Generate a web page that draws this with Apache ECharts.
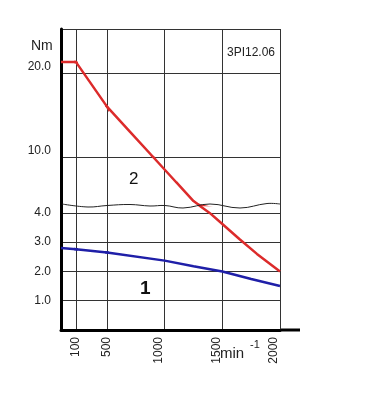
<!DOCTYPE html>
<html>
<head>
<meta charset="utf-8">
<script src="https://cdn.jsdelivr.net/npm/echarts@6/dist/echarts.min.js"></script>
<style>
  html, body { margin: 0; padding: 0; background: #fff; }
  #chart { width: 378px; height: 400px; }
</style>
</head>
<body>
<div id="chart"></div>
<script>
// curve 2 (red) and curve 1 (blue), speed in min^-1, torque in Nm
const speedRed  = [0, 100, 500, 700, 900, 1100, 1250, 1300, 1390, 1500, 1650, 1800, 2000];
const torqueRed = [21.3, 21.3, 16.0, 13.0, 10.0, 7.0, 4.76, 4.25, 4.0, 3.62, 3.1, 2.6, 2.0];
const speedBlue  = [0, 100, 500, 1000, 1250, 1500, 1750, 2000];
const torqueBlue = [2.8, 2.76, 2.65, 2.37, 2.18, 2.0, 1.74, 1.5];

const font = 'Arial, "Liberation Sans", sans-serif';
const gridColor = '#333';

// the drawing uses a broken scale on both axes, so it is split in pieces
const xPieces = [
    { min: 0, max: 100, interval: 100, left: 61, width: 15, labelAlign: 'middle' },
    { min: 100, max: 500, interval: 400, left: 76, width: 31, labelAlign: 'middle' },
    { min: 500, max: 2000, interval: 500, left: 107, width: 173, labelAlign: 'bottom' }
];
const yPieces = [
    { min: 0, max: 4.27, interval: 1, top: 205, height: 125, lines: true, bottom: true },
    { min: 4.29, max: 10, interval: null, top: 157, height: 48, lines: false, bottom: false },
    { min: 10, max: 25.24, interval: 10, top: 29, height: 128, lines: true, bottom: false }
];

function pairs(xs, ys) {
    return xs.map((x, i) => [x, ys[i]]);
}

let grids = [], xAxes = [], yAxes = [], series = [];
yPieces.forEach((yp, r) => {
    xPieces.forEach((xp, c) => {
        let g = grids.length;
        grids.push({ left: xp.left, width: xp.width, top: yp.top, height: yp.height, containLabel: false });
        xAxes.push({
            type: 'value', gridIndex: g, min: xp.min, max: xp.max, interval: xp.interval,
            axisLine: { show: yp.bottom, onZero: false, lineStyle: { color: '#000', width: 3 } },
            axisTick: { show: false },
            axisLabel: {
                show: yp.bottom, rotate: 90, margin: 7, showMinLabel: false,
                color: '#222', fontSize: 12, fontFamily: font,
                verticalAlign: xp.labelAlign, lineHeight: 12,
                formatter: v => String(v)
            },
            splitLine: { show: true, lineStyle: { color: gridColor, width: 1 } }
        });
        yAxes.push({
            type: 'value', gridIndex: g, min: yp.min, max: yp.max,
            interval: yp.interval == null ? undefined : yp.interval,
            axisLine: { show: c === 0, onZero: false, lineStyle: { color: '#000', width: 3 } },
            axisTick: { show: false },
            axisLabel: {
                show: c === 0 && yp.lines, margin: 10, showMinLabel: r === 2, showMaxLabel: false,
                color: '#222', fontSize: 12, fontFamily: font,
                verticalAlign: r === 2 ? 'bottom' : 'middle',
                formatter: v => v.toFixed(1)
            },
            splitLine: { show: yp.lines, showMaxLine: r === 2, lineStyle: { color: gridColor, width: 1 } }
        });
        series.push({
            type: 'line', xAxisIndex: g, yAxisIndex: g, data: pairs(speedRed, torqueRed),
            symbol: 'none', clip: true, silent: true,
            lineStyle: { color: '#dc2b2b', width: 2.5 }
        });
        series.push({
            type: 'line', xAxisIndex: g, yAxisIndex: g, data: pairs(speedBlue, torqueBlue),
            symbol: 'none', clip: true, silent: true,
            lineStyle: { color: '#1f1fa8', width: 2.5 }
        });
    });
});

var myChart = echarts.init(document.getElementById('chart'));
let option = {
    animation: false,
    textStyle: { fontFamily: font },
    grid: grids,
    xAxis: xAxes,
    yAxis: yAxes,
    series: series,
    graphic: [
        // break mark between 4 and 10 Nm
        {
            type: 'polyline', silent: true, z: 10,
            shape: { smooth: 0.4, points: [[62, 204], [88, 207], [107, 205.5], [130, 204.5], [150, 206],
                [165, 205.5], [183, 208], [210, 204], [240, 208], [267, 203.5], [280, 204]] },
            style: { stroke: '#222', lineWidth: 1, fill: null }
        },
        { type: 'line', silent: true, shape: { x1: 280, y1: 330, x2: 300, y2: 330 },
          style: { stroke: '#000', lineWidth: 3 } },
        { type: 'text', left: 31, top: 39, style: { text: 'Nm', font: '14px ' + font, fill: '#222' } },
        { type: 'text', left: 227, top: 47, style: { text: '3PI12.06', font: '12px ' + font, fill: '#222' } },
        { type: 'text', left: 129, top: 171, style: { text: '2', font: '17px ' + font, fill: '#111' } },
        { type: 'text', left: 140, top: 279, style: { text: '1', font: 'bold 19px ' + font, fill: '#111' } },
        { type: 'text', left: 220, top: 346, style: { text: 'min', font: '15px ' + font, fill: '#222' } },
        { type: 'text', left: 250, top: 339, style: { text: '-1', font: '11px ' + font, fill: '#222' } }
    ]
};
myChart.setOption(option);
</script>
</body>
</html>
